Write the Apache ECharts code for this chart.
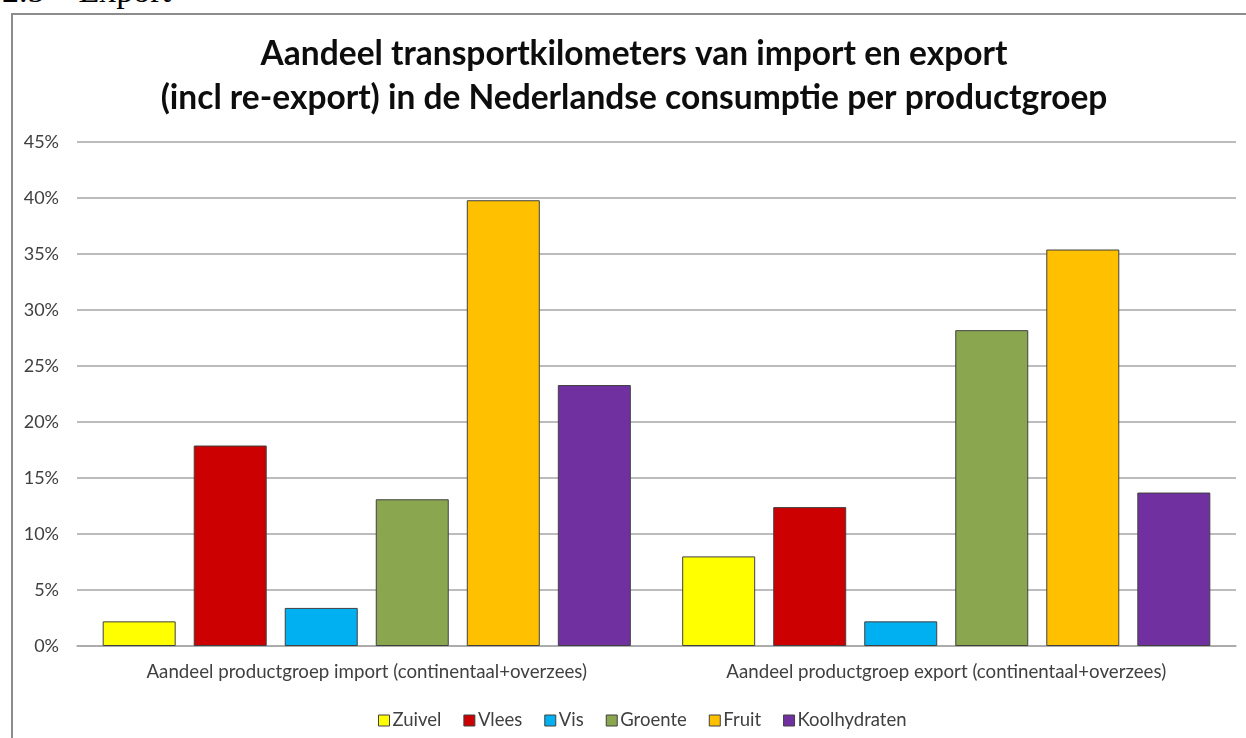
<!DOCTYPE html>
<html lang="nl">

<head>
    <meta charset="UTF-8">
    <title>Aandeel transportkilometers</title>
    <style>
        html, body {
            margin: 0;
            padding: 0;
            background: #fff;
            overflow: hidden;
        }
        #heading {
            position: absolute;
            left: 2px;
            top: -26px;
            font-family: 'Liberation Serif', serif;
            font-size: 34px;
            line-height: 34px;
            color: #000;
            white-space: pre;
        }
        #box {
            position: absolute;
            left: 11px;
            top: 13px;
            width: 1246px;
            height: 740px;
            border-left: 2px solid #8c8c8c;
            border-top: 2px solid #8c8c8c;
        }
        #chart {
            position: absolute;
            left: 0;
            top: 0;
            width: 1246px;
            height: 738px;
        }
    </style>
</head>

<body>
    <div id="heading">2.5    Export</div>
    <div id="box"></div>
    <div id="chart"></div>

    <script src="https://cdn.jsdelivr.net/npm/echarts@6/dist/echarts.min.js"></script>
    <script>
        const categories = [
            'Aandeel productgroep import (continentaal+overzees)',
            'Aandeel productgroep export (continentaal+overzees)'
        ]
        const seriesNames = ['Zuivel', 'Vlees', 'Vis', 'Groente', 'Fruit', 'Koolhydraten']
        const seriesColors = ['#ffff00', '#cc0000', '#00b0f0', '#8aa64f', '#ffc000', '#7030a0']
        // aandeel in %, [import, export]
        const zuivel = [2.2, 8.0]
        const vlees = [17.9, 12.4]
        const vis = [3.4, 2.2]
        const groente = [13.1, 28.2]
        const fruit = [39.8, 35.4]
        const koolhydraten = [23.3, 13.7]
        const values = [zuivel, vlees, vis, groente, fruit, koolhydraten]

        const font = 'Lato, Carlito, sans-serif'

        const chart = echarts.init(document.getElementById('chart'))
        chart.setOption({
            animation: false,
            title: {
                text: 'Aandeel transportkilometers van import en export\n(incl re-export) in de Nederlandse consumptie per productgroep',
                left: 629,
                textAlign: 'center',
                top: 27,
                textStyle: {
                    fontFamily: font,
                    fontSize: 33.5,
                    fontWeight: 'bold',
                    color: '#0d0d0d',
                    lineHeight: 44
                }
            },
            legend: {
                left: 373,
                top: 706,
                icon: 'rect',
                itemWidth: 11,
                itemHeight: 11,
                itemGap: 22,
                itemStyle: { borderColor: '#404040', borderWidth: 1 },
                textStyle: { fontFamily: font, fontSize: 18.5, color: '#404040', padding: [0, 0, 0, -2] },
                data: seriesNames
            },
            grid: {
                left: 77,
                right: 10,
                top: 142,
                bottom: 92,
                containLabel: false
            },
            xAxis: {
                type: 'category',
                data: categories,
                axisLine: { lineStyle: { color: '#a6a6a6', width: 1.5 } },
                axisTick: { show: false },
                axisLabel: { fontFamily: font, fontSize: 18.7, color: '#404040', margin: 16 }
            },
            yAxis: {
                type: 'value',
                min: 0,
                max: 45,
                interval: 5,
                axisLine: { show: false },
                axisTick: { show: false },
                splitLine: { lineStyle: { color: '#a6a6a6', width: 1.5 } },
                axisLabel: {
                    fontFamily: font,
                    fontSize: 18,
                    color: '#404040',
                    margin: 18,
                    formatter: v => v + '%'
                }
            },
            series: seriesNames.map((name, i) => ({
                name: name,
                type: 'bar',
                data: values[i],
                barWidth: 73,
                barGap: '24.7%',
                itemStyle: {
                    color: seriesColors[i],
                    borderColor: '#404040',
                    borderWidth: 1
                }
            }))
        })
    </script>
</body>

</html>
